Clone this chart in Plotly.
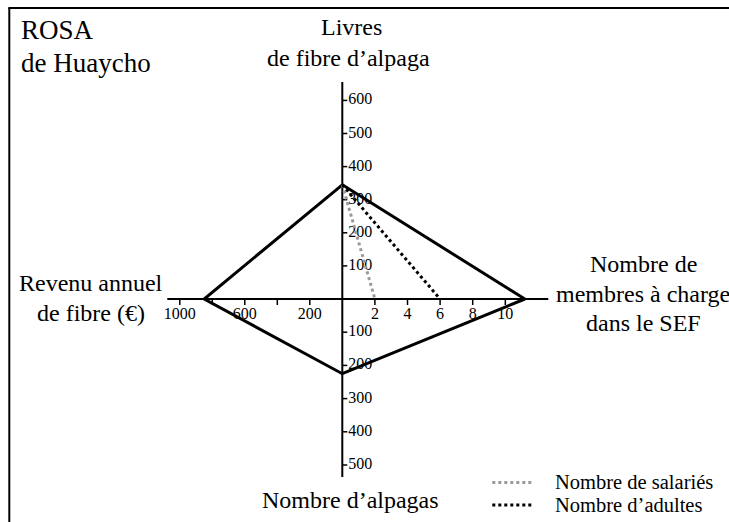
import plotly.graph_objects as go

# --- data -------------------------------------------------------------
title_lines = ["ROSA", "de Huaycho"]

livres_ticks = [100, 200, 300, 400, 500, 600]          # top axis
membres_ticks = [2, 4, 6, 8, 10]                         # right axis
revenu_ticks = [200, 400, 600, 800, 1000]                # left axis
revenu_labelled = [1000, 600, 200]
alpagas_ticks = [100, 200, 300, 400, 500]                # bottom axis

# profile values on the four axes
livres_value = 345
membres_value = 11.2
revenu_value = 850
alpagas_value = 225

# dotted series: from livres value down to a count on the right axis
salaries_value = 2
adultes_value = 6

# --- scales (drawing units per data unit) ----------------------------
S_MEMBRES = 16.3
S_REVENU = 0.1625
S_LIVRES = 0.331
S_ALPAGAS = 0.332


def fx_membres(v):
    return v * S_MEMBRES


def fx_revenu(v):
    return -v * S_REVENU


def fy_livres(v):
    return v * S_LIVRES


def fy_alpagas(v):
    return -v * S_ALPAGAS


FONT = "Liberation Serif"
fig = go.Figure()

# axis tick labels (drawn first, so the profile lines sit above them)
vx, vy, vt = [], [], []
for v in livres_ticks:
    vx.append(6); vy.append(fy_livres(v)); vt.append(str(v))
for v in alpagas_ticks:
    vx.append(6); vy.append(fy_alpagas(v)); vt.append(str(v))
fig.add_trace(go.Scatter(x=vx, y=vy, text=vt, mode="text", textposition="middle right",
                         textfont=dict(family=FONT, size=16, color="black"),
                         showlegend=False, hoverinfo="skip"))
hx, hy, ht = [], [], []
for v in membres_ticks:
    hx.append(fx_membres(v)); hy.append(-8); ht.append(str(v))
for v in revenu_labelled:
    hx.append(fx_revenu(v)); hy.append(-8); ht.append(str(v))
fig.add_trace(go.Scatter(x=hx, y=hy, text=ht, mode="text", textposition="bottom center",
                         textfont=dict(family=FONT, size=16, color="black"),
                         showlegend=False, hoverinfo="skip"))

# axes and tick marks
axis_line = dict(color="black", width=2)
fig.add_trace(go.Scatter(x=[-175, 206], y=[0, 0], mode="lines", line=axis_line,
                         showlegend=False, hoverinfo="skip"))
fig.add_trace(go.Scatter(x=[0, 0], y=[217, -178], mode="lines", line=axis_line,
                         showlegend=False, hoverinfo="skip"))
tx, ty = [], []
for v in livres_ticks:
    tx += [0, 5, None]; ty += [fy_livres(v)] * 2 + [None]
for v in alpagas_ticks:
    tx += [0, 5, None]; ty += [fy_alpagas(v)] * 2 + [None]
for v in membres_ticks:
    tx += [fx_membres(v)] * 2 + [None]; ty += [0, -6, None]
for v in revenu_ticks:
    tx += [fx_revenu(v)] * 2 + [None]; ty += [0, -6, None]
fig.add_trace(go.Scatter(x=tx, y=ty, mode="lines", line=dict(color="black", width=1.5),
                         showlegend=False, hoverinfo="skip"))

# profile diamond
px = [0, fx_membres(membres_value), 0, fx_revenu(revenu_value), 0]
py = [fy_livres(livres_value), 0, fy_alpagas(alpagas_value), 0, fy_livres(livres_value)]
fig.add_trace(go.Scatter(x=px, y=py, mode="lines", line=dict(color="black", width=3),
                         showlegend=False, hoverinfo="skip"))

# dotted series
fig.add_trace(go.Scatter(x=[0, fx_membres(salaries_value)], y=[fy_livres(livres_value), 0],
                         mode="lines", line=dict(color="#9a9a9a", width=3, dash="dot"),
                         showlegend=False, hoverinfo="skip"))
fig.add_trace(go.Scatter(x=[0, fx_membres(adultes_value)], y=[fy_livres(livres_value), 0],
                         mode="lines", line=dict(color="black", width=3, dash="dot"),
                         showlegend=False, hoverinfo="skip"))

# legend samples
fig.add_trace(go.Scatter(x=[150, 192], y=[-183.5, -183.5], mode="lines",
                         line=dict(color="#9a9a9a", width=3, dash="dot"),
                         showlegend=False, hoverinfo="skip"))
fig.add_trace(go.Scatter(x=[150, 192], y=[-206, -206], mode="lines",
                         line=dict(color="black", width=3, dash="dot"),
                         showlegend=False, hoverinfo="skip"))

annotations = []


def note(text, x, y, size, xanchor="center"):
    annotations.append(dict(text=text, x=x, y=y, xref="x", yref="y", showarrow=False,
                            xanchor=xanchor, yanchor="middle",
                            font=dict(family=FONT, size=size, color="black")))


note(title_lines[0], -323, 269, 27, "left")
note(title_lines[1], -323, 236, 27, "left")
note("Livres", 9, 272, 24)
note("de fibre d’alpaga", 6, 241, 24)
note("Revenu annuel", -251, 16, 24)
note("de fibre (€)", -251, -14, 24)
note("Nombre de", 301, 35, 24)
note("membres à charge", 301, 5, 24)
note("dans le SEF", 301, -24, 24)
note("Nombre d’alpagas", 8, -201, 24)
note("Nombre de salariés", 211, -183, 20.5, "left")
note("Nombre d’adultes", 211, -206, 20.5, "left")

fig.update_layout(
    width=729, height=522, autosize=False,
    margin=dict(l=0, r=0, t=0, b=0),
    paper_bgcolor="white", plot_bgcolor="white",
    xaxis=dict(range=[-342.3, 386.7], visible=False, fixedrange=True),
    yaxis=dict(range=[-223, 299], visible=False, fixedrange=True),
    annotations=annotations,
    shapes=[
        dict(type="line", xref="x", yref="y", x0=-333, x1=-333, y0=291, y1=-230,
             line=dict(color="black", width=2)),
        dict(type="line", xref="x", yref="y", x0=-334, x1=400, y0=291, y1=291,
             line=dict(color="black", width=2)),
    ],
)

fig.write_html("out.html")
